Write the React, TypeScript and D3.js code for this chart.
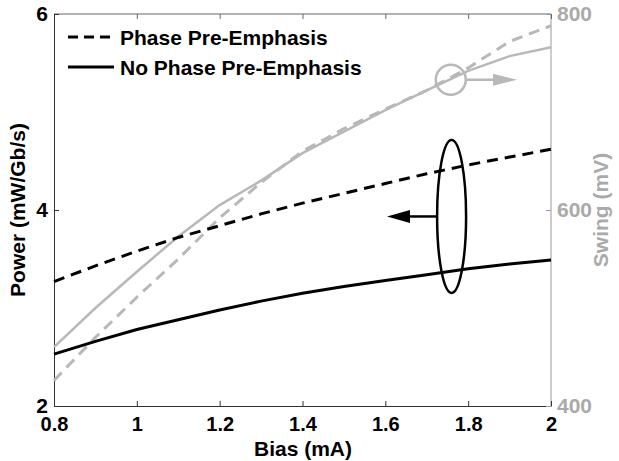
import React, { useEffect, useRef } from 'react';
import * as d3 from 'd3';

const bias = [0.8, 0.9, 1.0, 1.1, 1.2, 1.3, 1.4, 1.5, 1.6, 1.7, 1.8, 1.9, 2.0];
const powerPhase = [3.27, 3.43, 3.58, 3.72, 3.84, 3.96, 4.07, 4.17, 4.27, 4.37, 4.46, 4.54, 4.62];
const powerNoPhase = [2.53, 2.66, 2.78, 2.88, 2.98, 3.07, 3.15, 3.22, 3.28, 3.34, 3.4, 3.45, 3.49];
const swingPhase = [426, 470, 511, 550, 592, 628, 660, 683, 703, 722, 745, 772, 788];
const swingNoPhase = [460, 500, 537, 573, 605, 630, 658, 680, 702, 722, 742, 757, 766];

const xTicks = [0.8, 1, 1.2, 1.4, 1.6, 1.8, 2];
const leftTicks = [2, 4, 6];
const rightTicks = [400, 600, 800];

const GRAY = '#b8b8b8';
const GRAY_TEXT = '#aaaaaa';
const FONT = '"Liberation Sans", Arial, Helvetica, sans-serif';
const FS = 21;

export default function App() {
  const ref = useRef<SVGSVGElement>(null);

  useEffect(() => {
    if (!ref.current) return;
    const svg = d3.select(ref.current);
    svg.selectAll('*').remove();

    const margin = { top: 14, right: 68, bottom: 55, left: 54 };
    const width = 619;
    const height = 461;
    const w = width - margin.left - margin.right;
    const h = height - margin.top - margin.bottom;

    const x = d3.scaleLinear().domain([0.8, 2]).range([0, w]);
    const yL = d3.scaleLinear().domain([2, 6]).range([h, 0]);
    const yR = d3.scaleLinear().domain([400, 800]).range([h, 0]);

    const g = svg.append('g').attr('transform', `translate(${margin.left},${margin.top})`);

    // box
    g.append('line').attr('x1', 0).attr('x2', w).attr('y1', 0).attr('y2', 0).attr('stroke', '#666');
    g.append('line').attr('x1', w).attr('x2', w).attr('y1', 0).attr('y2', h).attr('stroke', '#999');

    // bottom axis
    const xb = g.append('g').attr('transform', `translate(0,${h})`)
      .call(d3.axisBottom(x).tickValues(xTicks).tickSizeInner(-5).tickSizeOuter(0).tickPadding(11)
        .tickFormat(d => String(+d)));
    xb.select('.domain').attr('stroke', '#333');
    xb.selectAll('line').attr('stroke', '#333');
    // top ticks
    g.append('g')
      .call(d3.axisTop(x).tickValues(xTicks).tickSizeInner(-5).tickSizeOuter(0).tickFormat(() => ''))
      .call(s => s.select('.domain').remove())
      .selectAll('line').attr('stroke', '#666');

    const yl = g.append('g')
      .call(d3.axisLeft(yL).tickValues(leftTicks).tickSizeInner(-5).tickSizeOuter(0).tickPadding(6)
        .tickFormat(d => String(+d)));
    yl.select('.domain').attr('stroke', '#333');
    yl.selectAll('line').attr('stroke', '#333');

    const yr = g.append('g').attr('transform', `translate(${w},0)`)
      .call(d3.axisRight(yR).tickValues(rightTicks).tickSizeInner(-5).tickSizeOuter(0).tickPadding(6));
    yr.select('.domain').remove();
    yr.selectAll('line').attr('stroke', '#999');
    yr.selectAll('text').attr('fill', GRAY_TEXT);

    g.selectAll('.tick text')
      .attr('font-family', FONT).attr('font-weight', 'bold').attr('font-size', FS);
    xb.selectAll('text').attr('fill', '#000').attr('font-size', 20);
    yl.selectAll('text').attr('fill', '#000');

    // lines
    const lineL = d3.line<number>().x((_, i) => x(bias[i])).y(d => yL(d));
    const lineR = d3.line<number>().x((_, i) => x(bias[i])).y(d => yR(d));

    g.append('path').attr('d', lineR(swingPhase)).attr('fill', 'none')
      .attr('stroke', GRAY).attr('stroke-width', 3).attr('stroke-dasharray', '11,7');
    g.append('path').attr('d', lineR(swingNoPhase)).attr('fill', 'none')
      .attr('stroke', GRAY).attr('stroke-width', 2.5);
    g.append('path').attr('d', lineL(powerPhase)).attr('fill', 'none')
      .attr('stroke', '#000').attr('stroke-width', 3).attr('stroke-dasharray', '11,7');
    g.append('path').attr('d', lineL(powerNoPhase)).attr('fill', 'none')
      .attr('stroke', '#000').attr('stroke-width', 3);

    // annotations: ellipse + arrow to the left axis
    const ex = x(1.76), ey = yL(3.934);
    g.append('ellipse').attr('cx', ex).attr('cy', ey).attr('rx', 14.5).attr('ry', 76.5)
      .attr('fill', 'none').attr('stroke', '#000').attr('stroke-width', 2.5);
    const bTip = x(1.604);
    g.append('line').attr('x1', ex - 14.5).attr('y1', ey).attr('x2', bTip + 20).attr('y2', ey)
      .attr('stroke', '#000').attr('stroke-width', 2.5);
    g.append('path')
      .attr('d', `M${bTip},${ey} L${bTip + 23},${ey - 6.5} L${bTip + 23},${ey + 6.5} Z`)
      .attr('fill', '#000');

    // circle + arrow to the right axis
    const cx = x(1.758), cy = yR(733);
    g.append('circle').attr('cx', cx).attr('cy', cy).attr('r', 15)
      .attr('fill', 'none').attr('stroke', GRAY).attr('stroke-width', 2.5);
    const gTip = x(1.918);
    g.append('line').attr('x1', cx + 15).attr('y1', cy).attr('x2', gTip - 20).attr('y2', cy)
      .attr('stroke', GRAY).attr('stroke-width', 2.5);
    g.append('path')
      .attr('d', `M${gTip},${cy} L${gTip - 24},${cy - 6} L${gTip - 24},${cy + 6} Z`)
      .attr('fill', GRAY);

    // legend
    const leg = g.append('g').attr('transform', 'translate(14,23)');
    const items = [
      { label: 'Phase Pre-Emphasis', dash: '10,6' },
      { label: 'No Phase Pre-Emphasis', dash: null },
    ];
    items.forEach((it, i) => {
      const row = leg.append('g').attr('transform', `translate(0,${i * 30})`);
      row.append('line').attr('x1', 0).attr('x2', 46).attr('y1', 0).attr('y2', 0)
        .attr('stroke', '#000').attr('stroke-width', 3)
        .attr('stroke-dasharray', it.dash ?? null);
      row.append('text').attr('x', 52).attr('y', 0).attr('dy', '0.36em')
        .attr('font-family', FONT).attr('font-weight', 'bold').attr('font-size', FS)
        .text(it.label);
    });

    // axis titles
    svg.append('text').attr('x', 303).attr('y', 456).attr('text-anchor', 'middle')
      .attr('font-family', FONT).attr('font-weight', 'bold').attr('font-size', FS).text('Bias (mA)');
    svg.append('text').attr('transform', `translate(25,${margin.top + h / 2}) rotate(-90)`)
      .attr('text-anchor', 'middle')
      .attr('font-family', FONT).attr('font-weight', 'bold').attr('font-size', FS).text('Power (mW/Gb/s)');
    svg.append('text').attr('transform', `translate(608,${margin.top + h / 2}) rotate(-90)`)
      .attr('text-anchor', 'middle').attr('fill', GRAY_TEXT)
      .attr('font-family', FONT).attr('font-weight', 'bold').attr('font-size', FS).text('Swing (mV)');
  }, []);

  return (
    <svg
      ref={ref}
      width={619}
      height={461}
      style={{ position: 'absolute', left: 0, top: 0, background: '#fff' }}
    />
  );
}
